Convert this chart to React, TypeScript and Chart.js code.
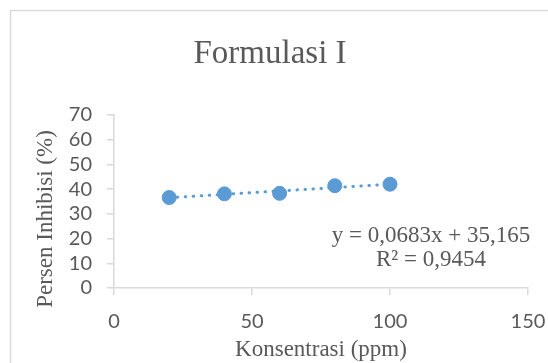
import React, { useEffect, useRef } from "react";
import { Chart, registerables } from "chart.js";

Chart.register(...registerables);

const concentrations = [20, 40, 60, 80, 100];
const inhibition = [36.6, 38.1, 38.3, 41.4, 42.0];
const trendRange = [20, 100];
const slope = 0.0683;
const intercept = 35.165;
const titleText = "Formulasi I";
const xTitle = "Konsentrasi (ppm)";
const yTitle = "Persen Inhibisi (%)";
const eqLines = ["y = 0,0683x + 35,165", "R² = 0,9454"];

const TEXT = "#595959";
const AXIS = "#D9D9D9";
const BLUE = "#5B9BD5";
const SERIF = "'Liberation Serif', 'DejaVu Serif', serif";
const SANS = "Lato, 'Open Sans', sans-serif";

export default function App() {
  const ref = useRef<HTMLCanvasElement | null>(null);
  useEffect(() => {
    if (!ref.current) return;
    const decor = {
      id: "decor",
      beforeDraw(chart: any) {
        const ctx = chart.ctx;
        ctx.save();
        ctx.fillStyle = "#ffffff";
        ctx.fillRect(0, 0, chart.width, chart.height);
        ctx.strokeStyle = AXIS;
        ctx.lineWidth = 1.5;
        ctx.strokeRect(10.5, 10.5, 700, 500);
        ctx.restore();
      },
      afterDraw(chart: any) {
        const ctx = chart.ctx;
        const area = chart.chartArea;
        ctx.save();
        ctx.fillStyle = TEXT;
        ctx.textAlign = "center";
        ctx.textBaseline = "alphabetic";
        ctx.font = `33px ${SERIF}`;
        ctx.fillText(titleText, 270, 63);
        ctx.font = `23px ${SERIF}`;
        ctx.fillText(xTitle, (area.left + area.right) / 2, 356);
        ctx.fillText(eqLines[0], 431, 242);
        ctx.fillText(eqLines[1], 431, 266);
        ctx.translate(52, 219);
        ctx.rotate(-Math.PI / 2);
        ctx.fillText(yTitle, 0, 0);
        ctx.restore();
      },
    };
    const chart = new Chart(ref.current, {
      type: "scatter",
      data: {
        datasets: [
          {
            label: "Trend",
            data: trendRange.map((x) => ({ x, y: slope * x + intercept })),
            showLine: true,
            borderColor: BLUE,
            borderWidth: 3,
            borderDash: [0.5, 7.5],
            borderCapStyle: "round",
            pointRadius: 0,
            pointHoverRadius: 0,
          },
          {
            label: "Formulasi I",
            data: concentrations.map((x, i) => ({ x, y: inhibition[i] })),
            backgroundColor: BLUE,
            borderColor: BLUE,
            pointRadius: 7,
            pointBorderWidth: 1,
          },
        ],
      },
      options: {
        animation: false,
        responsive: true,
        maintainAspectRatio: false,
        devicePixelRatio: 1,
        layout: { padding: { left: 0, top: 115, right: 20, bottom: 0 } },
        plugins: {
          legend: { display: false },
          tooltip: { enabled: false },
          title: { display: false },
        },
        scales: {
          x: {
            type: "linear",
            min: 0,
            max: 150,
            afterFit(scale: any) {
              scale.height = 75;
              scale.paddingLeft = 0;
              scale.paddingRight = 0;
            },
            ticks: {
              stepSize: 50,
              autoSkip: false,
              color: TEXT,
              font: { family: SANS, size: 20 },
              padding: 15,
            },
            grid: {
              drawOnChartArea: false,
              drawTicks: true,
              tickLength: 7,
              color: AXIS,
              lineWidth: 1.5,
            },
            border: { color: AXIS, width: 1.5 },
          },
          y: {
            type: "linear",
            min: 0,
            max: 70,
            afterFit(scale: any) {
              scale.width = 114;
              scale.paddingTop = 0;
              scale.paddingBottom = 0;
            },
            ticks: {
              stepSize: 10,
              autoSkip: false,
              color: TEXT,
              font: { family: SANS, size: 20 },
              padding: 15,
            },
            grid: {
              drawOnChartArea: false,
              drawTicks: true,
              tickLength: 7,
              color: AXIS,
              lineWidth: 1.5,
            },
            border: { color: AXIS, width: 1.5 },
          },
        },
      },
      plugins: [decor],
    } as any);
    return () => chart.destroy();
  }, []);
  return (
    <div style={{ position: "absolute", left: 0, top: 0, width: 548, height: 363 }}>
      <canvas ref={ref} />
    </div>
  );
}
